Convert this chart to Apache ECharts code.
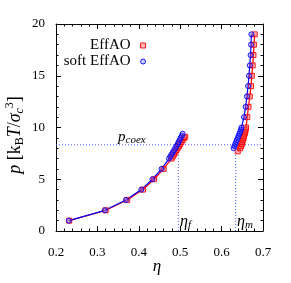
<!DOCTYPE html>
<html><head><meta charset="utf-8">
<script src="https://cdn.jsdelivr.net/npm/echarts@6/dist/echarts.min.js"></script>
<style>html,body{margin:0;padding:0;background:#fff}#c{width:291px;height:283px}</style>
</head><body><div id="c"></div>
<script>
// EffAO (red) fluid branch
const effFluidEta = [0.232,0.320,0.372,0.410,0.437,0.460,0.479,0.482,0.485,0.488,0.491,0.494,0.497,0.500,0.503,0.506,0.509,0.512];
const effFluidP   = [1,2,3,4,5,6,7,7.2,7.4,7.6,7.8,8.0,8.2,8.4,8.6,8.8,9.0,9.1];
// soft EffAO (blue) fluid branch
const softFluidEta = [0.231,0.318,0.369,0.406,0.433,0.455,0.473,0.476,0.479,0.482,0.485,0.488,0.491,0.494,0.496,0.499,0.501,0.504,0.506];
const softFluidP   = [1,2,3,4,5,6,7,7.2,7.4,7.6,7.8,8.0,8.2,8.4,8.6,8.8,9.0,9.2,9.4];
// EffAO (red) solid branch
const effSolidEta = [0.639,0.645,0.647,0.649,0.650,0.652,0.653,0.654,0.656,0.657,0.658,0.659,0.662,0.665,0.668,0.671,0.673,0.675,0.677,0.678,0.680];
const effSolidP   = [7.7,8.0,8.2,8.4,8.6,8.8,9.0,9.2,9.4,9.6,9.8,10,11,12,13,14,15,16,17,18,19];
// soft EffAO (blue) solid branch
const softSolidEta = [0.629,0.631,0.633,0.635,0.637,0.639,0.641,0.643,0.645,0.647,0.648,0.654,0.658,0.661,0.664,0.666,0.668,0.670,0.671,0.672];
const softSolidP   = [8.0,8.2,8.4,8.6,8.8,9.0,9.2,9.4,9.6,9.8,10,11,12,13,14,15,16,17,18,19];
// coexistence
const pCoex = 8.33, etaF = 0.4955, etaM = 0.634;
const xTicks = [0.2,0.3,0.4,0.5,0.6,0.7];
const yTicks = [0,5,10,15,20];

const zip = (a,b) => a.map((v,i)=>[v,b[i]]);
const FONT = 'Liberation Serif';
const RED = '#ff0000', BLUE = '#0000ff';
const redItem = {color:'rgba(255,90,90,0.4)', borderColor:RED, borderWidth:0.9};
const blueItem = {color:'rgba(90,90,255,0.3)', borderColor:BLUE, borderWidth:0.9};

function mkSeries(name, data, color, sym, item){
  return {type:'line', name, data, symbol:sym, symbolSize:5, showSymbol:true,
    lineStyle:{color, width:1.2}, itemStyle:item, animation:false, z:3};
}
const dotted = {color:'#4a5cff', width:1, type:[1,2]};
const tickStyle = {show:true, inside:true, length:5, lineStyle:{color:'#000'}};
const minorStyle = {show:true, splitNumber:5, length:2.5, lineStyle:{color:'#000'}};
const axLine = {show:true, onZero:false, lineStyle:{color:'#000', width:1}};

const chart = echarts.init(document.getElementById('c'));
chart.setOption({
  backgroundColor:'#fff',
  animation:false,
  grid:{left:56, top:24, width:207, height:207},
  xAxis:[
    {type:'value', min:xTicks[0], max:xTicks[xTicks.length-1], interval:0.1, position:'bottom',
     axisLine:axLine, axisTick:tickStyle, minorTick:minorStyle, splitLine:{show:false},
     axisLabel:{fontFamily:FONT, fontSize:13, color:'#000', margin:15, formatter:v=>v.toFixed(1)}},
    {type:'value', min:xTicks[0], max:xTicks[xTicks.length-1], interval:0.1, position:'top',
     axisLine:axLine, axisTick:tickStyle, minorTick:minorStyle, splitLine:{show:false}, axisLabel:{show:false}}
  ],
  yAxis:[
    {type:'value', min:yTicks[0], max:yTicks[yTicks.length-1], interval:5, position:'left',
     axisLine:axLine, axisTick:tickStyle, minorTick:minorStyle, splitLine:{show:false},
     axisLabel:{fontFamily:FONT, fontSize:13, color:'#000', margin:11}},
    {type:'value', min:yTicks[0], max:yTicks[yTicks.length-1], interval:5, position:'right',
     axisLine:axLine, axisTick:tickStyle, minorTick:minorStyle, splitLine:{show:false}, axisLabel:{show:false}}
  ],
  legend:[
    {right:140, top:33, itemWidth:5, itemHeight:5, align:'right', itemGap:4,
     textStyle:{fontFamily:FONT, fontSize:15, color:'#000', padding:[0,5,0,0]},
     data:[{name:'EffAO', icon:'rect', itemStyle:redItem}]},
    {right:140, top:49, itemWidth:5, itemHeight:5, align:'right', itemGap:4,
     textStyle:{fontFamily:FONT, fontSize:15, color:'#000', padding:[0,5,0,0]},
     data:[{name:'soft EffAO', icon:'circle', itemStyle:blueItem}]}
  ],
  series:[
    {type:'line', name:'coex', data:[[xTicks[0],pCoex],[xTicks[xTicks.length-1],pCoex]], symbol:'none', lineStyle:dotted, z:1, silent:true},
    {type:'line', name:'etaf', data:[[etaF,0],[etaF,pCoex]], symbol:'none', lineStyle:dotted, z:1, silent:true},
    {type:'line', name:'etam', data:[[etaM,0],[etaM,pCoex]], symbol:'none', lineStyle:dotted, z:1, silent:true},
    mkSeries('EffAO', zip(effFluidEta, effFluidP), RED, 'rect', redItem),
    mkSeries('EffAO', zip(effSolidEta, effSolidP), RED, 'rect', redItem),
    mkSeries('soft EffAO', zip(softFluidEta, softFluidP), BLUE, 'circle', blueItem),
    mkSeries('soft EffAO', zip(softSolidEta, softSolidP), BLUE, 'circle', blueItem)
  ],
  graphic:[
    {type:'text', x:15, y:135, rotation:Math.PI/2,
     style:{text:'{i|p} [k{sub|B}{i|T}/{i|σ}{subi|c}{sup|3}]', fontFamily:FONT, fontSize:18, fill:'#000', align:'center', verticalAlign:'middle',
       rich:{i:{fontStyle:'italic', fontFamily:FONT, fontSize:18},
             sub:{fontSize:12, fontFamily:FONT, padding:[9,0,0,0]},
             subi:{fontSize:12, fontStyle:'italic', fontFamily:FONT, padding:[9,0,0,0]},
             sup:{fontSize:12, fontFamily:FONT, padding:[0,0,11,0]}}}},
    {type:'text', x:157, y:267, style:{text:'η', fontFamily:FONT, fontStyle:'italic', fontSize:17, fill:'#000', align:'center', verticalAlign:'middle'}},
    {type:'text', x:118, y:137, style:{text:'{i|p}{s|coex}', fill:'#000', verticalAlign:'middle',
       rich:{i:{fontStyle:'italic', fontFamily:FONT, fontSize:15}, s:{fontStyle:'italic', fontFamily:FONT, fontSize:11, padding:[6,0,0,0]}}}},
    {type:'text', x:180, y:222, style:{text:'{i|η}{s|f}', fill:'#000', verticalAlign:'middle',
       rich:{i:{fontStyle:'italic', fontFamily:FONT, fontSize:16}, s:{fontStyle:'italic', fontFamily:FONT, fontSize:11, padding:[7,0,0,0]}}}},
    {type:'text', x:237, y:222, style:{text:'{i|η}{s|m}', fill:'#000', verticalAlign:'middle',
       rich:{i:{fontStyle:'italic', fontFamily:FONT, fontSize:16}, s:{fontStyle:'italic', fontFamily:FONT, fontSize:11, padding:[7,0,0,0]}}}}
  ]
});
</script></body></html>
